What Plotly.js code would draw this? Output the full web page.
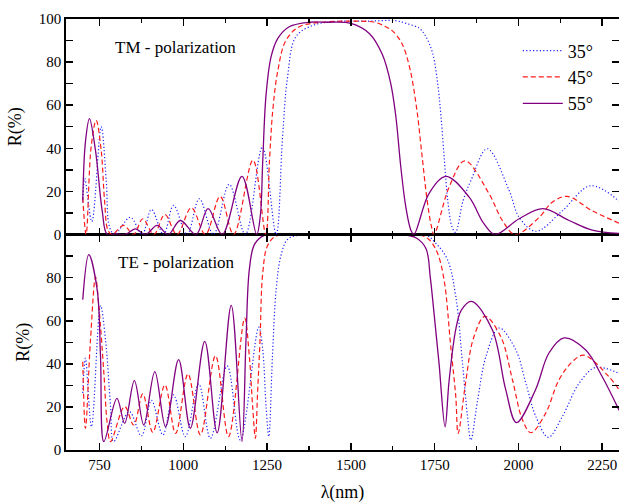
<!DOCTYPE html>
<html>
<head>
<meta charset="utf-8">
<script src="https://cdn.plot.ly/plotly-3.0.1.min.js"></script>
<style>html,body{margin:0;padding:0;background:#fff;}#chart{width:619px;height:504px;}</style>
</head>
<body>
<div id="chart"></div>
<script>
// ---- TM polarization (top panel) ----
var wl_TM35 = [700, 706, 727, 755, 770, 780, 795, 842, 877, 905, 941, 971, 1011, 1048, 1090, 1137, 1185, 1236, 1277, 1296, 1311, 1336, 1386, 1450, 1550, 1634, 1664, 1704, 1724, 1744, 1759, 1769, 1779, 1789, 1802, 1812, 1835, 1858, 1907, 1972, 2002, 2052, 2131, 2215, 2300];
var R_TM35  = [15, 26, 6, 50, 25, 3.4, 0, 8, 0, 11.6, 0, 13.5, 0, 16.6, 0, 23.3, 0, 40.6, 0, 45, 73, 91.8, 97, 98.8, 99, 99.2, 98, 95.7, 91.8, 84, 70, 54.6, 34.4, 15.8, 3.4, 1, 15.8, 25, 39.8, 20.5, 8, 1.5, 11, 22.6, 15.5];

var wl_TM45 = [700, 710, 725, 740, 755, 765, 775, 787, 822, 852, 879, 912, 945, 981, 1024, 1066, 1110, 1150, 1208, 1246, 1257, 1267, 1282, 1306, 1346, 1416, 1500, 1570, 1604, 1624, 1652, 1676, 1697, 1712, 1727, 1740, 1748, 1793, 1840, 1912, 1952, 1990, 2062, 2101, 2146, 2220, 2300];
var R_TM45  = [17, 0, 40.6, 53, 39, 15.8, 2, 0, 4.2, 0, 7.3, 0, 9.3, 0, 12.4, 0, 17.7, 0, 34.5, 0, 34, 57.7, 76, 90, 96.4, 98.5, 99, 98.5, 96.4, 94.5, 88.7, 77, 57.7, 37, 16.5, 4, 0, 22, 34.2, 19, 6.5, 0, 8, 15, 17.7, 11, 5.3];

var wl_TM55 = [700, 708, 720, 738, 758, 773, 800, 827, 857, 887, 922, 955, 991, 1038, 1074, 1116, 1175, 1219, 1230, 1237, 1247, 1262, 1282, 1316, 1376, 1430, 1500, 1555, 1594, 1619, 1634, 1649, 1664, 1679, 1688, 1733, 1784, 1853, 1897, 1930, 2002, 2073, 2151, 2220, 2300];
var R_TM55  = [15.8, 43, 53.8, 39, 11, 0, 0.3, 0, 2.6, 0, 4.2, 0, 6.5, 0, 12, 0, 27, 0, 9, 34, 65, 82.5, 91, 96.4, 98.5, 98.5, 98, 93.3, 83.5, 70, 55, 31.3, 12.7, 2, 0, 19, 27, 17.3, 5, 0, 7.3, 12, 6.5, 2, 0.5];

// ---- TE polarization (bottom panel) ----
var wl_TE35 = [700, 708, 726, 753, 768, 783, 792, 839, 875, 905, 939, 971, 1006, 1046, 1081, 1131, 1170, 1225, 1237, 1247, 1255, 1266, 1277, 1291, 1311, 1350, 1500, 1720, 1753, 1788, 1813, 1833, 1848, 1858, 1878, 1903, 1942, 1992, 2022, 2052, 2089, 2131, 2181, 2230, 2300];
var R_TE35  = [26.4, 42.6, 10.8, 67, 51, 20, 3.9, 17.8, 6.5, 23, 7, 25.6, 6.2, 30.7, 5.4, 39, 4.6, 57, 46.5, 20, 6.2, 43.4, 74.4, 90, 97.7, 99.8, 100, 100, 96, 88.4, 71.3, 40.3, 15.5, 4.6, 23, 43.4, 56.6, 46.5, 31, 15.5, 5.9, 15.5, 31, 38.3, 35.5];

var wl_TE45 = [700, 708, 723, 738, 748, 763, 773, 783, 825, 852, 879, 909, 945, 977, 1014, 1051, 1096, 1135, 1183, 1197, 1207, 1215, 1222, 1229, 1237, 1252, 1280, 1500, 1700, 1733, 1758, 1778, 1798, 1813, 1820, 1843, 1866, 1900, 1947, 1982, 2012, 2037, 2081, 2121, 2161, 2195, 2270, 2300];
var R_TE45  = [41, 10, 51, 80.3, 66.7, 35.7, 12.4, 3.9, 20.2, 11.6, 26, 8.2, 30.2, 7.7, 35.3, 7, 43.7, 6.2, 61.2, 43.4, 20, 5.4, 28, 51, 82, 95, 99.5, 100, 100, 97.7, 91.5, 79, 48, 24.8, 7.7, 32, 52, 62, 52.7, 32.6, 14, 8, 17, 32.6, 41, 44, 34, 28];

var wl_TE55 = [700, 718, 743, 753, 763, 802, 825, 854, 882, 915, 947, 986, 1021, 1064, 1101, 1143, 1175, 1187, 1197, 1212, 1240, 1300, 1650, 1694, 1724, 1737, 1748, 1763, 1781, 1793, 1813, 1830, 1860, 1922, 1962, 1994, 2051, 2091, 2136, 2200, 2250, 2300];
var R_TE55  = [69.8, 90.7, 74.4, 43.4, 3.9, 24, 12.4, 32.2, 11.6, 36.4, 10.8, 41.9, 10.1, 50.4, 8, 67.1, 3.9, 51, 83.7, 95.3, 99.5, 100, 100, 98.5, 93.5, 80, 63.6, 40.3, 10.8, 32, 56, 65, 69, 55.8, 28, 12.7, 28, 45, 52, 46.5, 34, 18.5];

var seriesNames = ['35°', '45°', '55°'];
var ticksTop = [0, 20, 40, 60, 80, 100];
var ticksBottom = [0, 20, 40, 60, 80];
var ticksX = [750, 1000, 1250, 1500, 1750, 2000, 2250];
var minorX = [875, 1125, 1375, 1625, 1875, 2125];

var styles = [
  {color: '#2020ff', width: 1.2, dash: '1.2px,2.2px'},
  {color: '#ff1a1a', width: 1.2, dash: '5px,3px'},
  {color: '#800080', width: 1.3, dash: 'solid'}
];

function tr(x, y, i, ax, show) {
  return {x: x, y: y, xaxis: ax[0], yaxis: ax[1], type: 'scatter', mode: 'lines',
    name: seriesNames[i], showlegend: show,
    line: {color: styles[i].color, width: styles[i].width, dash: styles[i].dash, shape: 'spline', smoothing: 1}};
}

var data = [
  tr(wl_TM35, R_TM35, 0, ['x2', 'y2'], true),
  tr(wl_TM45, R_TM45, 1, ['x2', 'y2'], true),
  tr(wl_TM55, R_TM55, 2, ['x2', 'y2'], true),
  tr(wl_TE35, R_TE35, 0, ['x', 'y'], false),
  tr(wl_TE45, R_TE45, 1, ['x', 'y'], false),
  tr(wl_TE55, R_TE55, 2, ['x', 'y'], false)
];

var FAM = "'Liberation Serif', 'Times New Roman', Times, serif";
var font = {family: FAM, color: '#000'};
var axCommon = {
  showgrid: false, zeroline: false, showline: true, linecolor: '#000', linewidth: 1.8,
  mirror: 'ticks', ticks: 'inside', ticklen: 7, tickwidth: 1.6, tickcolor: '#000',
  tickfont: {family: FAM, size: 15, color: '#000'}
};

var layout = {
  width: 619, height: 504,
  margin: {l: 66, r: 0, t: 19, b: 54},
  paper_bgcolor: '#fff', plot_bgcolor: '#fff',
  font: font,
  showlegend: true,
  legend: {x: 0.817, y: 0.969, xanchor: 'left', yanchor: 'top', bgcolor: 'rgba(0,0,0,0)',
    font: {family: FAM, size: 18, color: '#000'}, itemwidth: 40, tracegroupgap: 0},
  xaxis: Object.assign({}, axCommon, {
    domain: [0, 1], anchor: 'y', range: [650, 2300], tickvals: ticksX,
    minor: {tickvals: minorX, ticks: 'inside', ticklen: 4, tickwidth: 1.4, tickcolor: '#000'},
    title: {text: 'λ(nm)', font: {family: FAM, size: 18, color: '#000'}, standoff: 14}
  }),
  yaxis: Object.assign({}, axCommon, {
    domain: [0, 0.5], anchor: 'x', range: [0, 100], tickvals: ticksBottom,
    minor: {dtick: 10, ticks: 'inside', ticklen: 7, tickwidth: 1.4, tickcolor: '#000'},
    title: {text: 'R(%)', font: {family: FAM, size: 18, color: '#000'}, standoff: 12}
  }),
  xaxis2: Object.assign({}, axCommon, {
    domain: [0, 1], anchor: 'y2', range: [650, 2300], tickvals: ticksX, matches: 'x', showticklabels: false,
    minor: {tickvals: minorX, ticks: 'inside', ticklen: 4, tickwidth: 1.4, tickcolor: '#000'}
  }),
  yaxis2: Object.assign({}, axCommon, {
    domain: [0.5, 1], anchor: 'x2', range: [0, 100], tickvals: ticksTop,
    minor: {dtick: 10, ticks: 'inside', ticklen: 7, tickwidth: 1.4, tickcolor: '#000'},
    title: {text: 'R(%)', font: {family: FAM, size: 18, color: '#000'}, standoff: 12}
  }),
  annotations: [
    {text: 'TM - polarization', xref: 'paper', yref: 'paper', x: 0.085, y: 0.935, xanchor: 'left', yanchor: 'middle', showarrow: false, font: {family: FAM, size: 17, color: '#000'}},
    {text: 'TE - polarization', xref: 'paper', yref: 'paper', x: 0.09, y: 0.435, xanchor: 'left', yanchor: 'middle', showarrow: false, font: {family: FAM, size: 17, color: '#000'}}
  ]
};

Plotly.newPlot('chart', data, layout, {displayModeBar: false, staticPlot: true});
</script>
</body>
</html>
